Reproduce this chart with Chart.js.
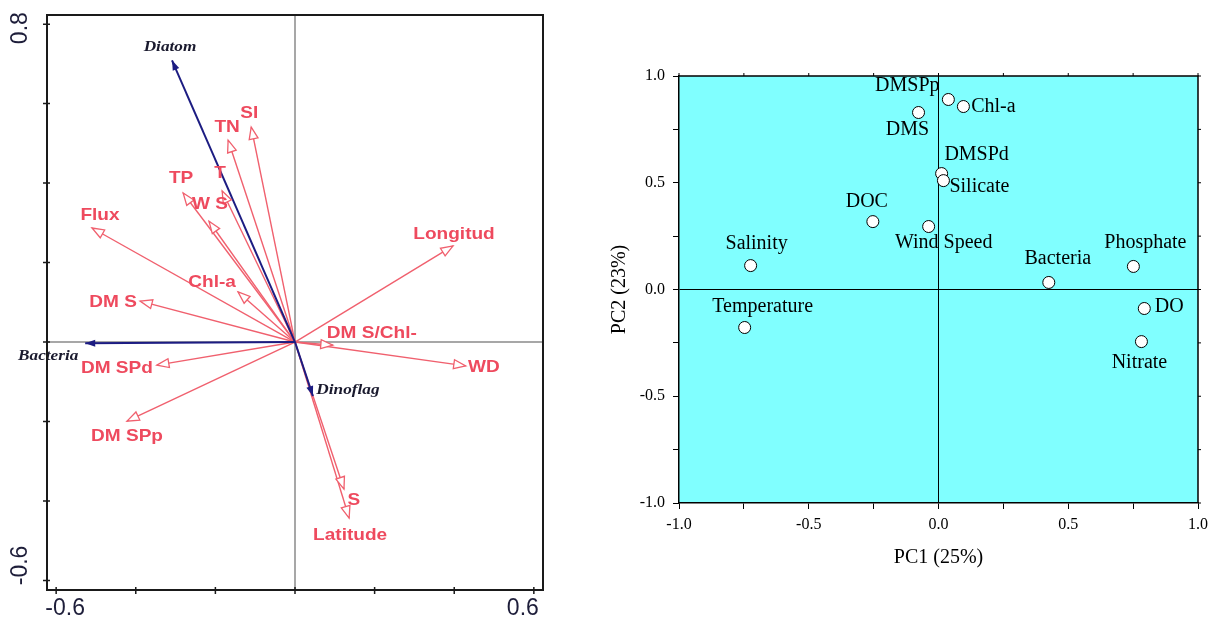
<!DOCTYPE html>
<html>
<head>
<meta charset="utf-8">
<script src="https://cdn.jsdelivr.net/npm/chart.js@4.4.0/dist/chart.umd.min.js"></script>
<style>
html, body { margin: 0; padding: 0; background: #fff; }
#wrap { position: relative; width: 1214px; height: 624px; }
#rdaChart { position: absolute; left: 0; top: 0; }
#pcaChart { position: absolute; left: 560px; top: 0; }
</style>
</head>
<body>
<div id="wrap">
  <canvas id="rdaChart" width="560" height="624"></canvas>
  <canvas id="pcaChart" width="654" height="624"></canvas>
</div>
<script>
// RDA biplot: environmental variables (red) and biological groups (blue)
const envNames = ['Flux', 'DM S', 'Chl-a', 'TP', 'W S', 'T', 'TN', 'SI', 'Longitud', 'DM S/Chl-', 'WD', 'DM SPd', 'DM SPp', 'S', 'Latitude'];
const envX = [-0.510, -0.389, -0.143, -0.281, -0.216, -0.183, -0.168, -0.110, 0.397, 0.095, 0.429, -0.347, -0.422, 0.123, 0.136];
const envY = [0.287, 0.103, 0.126, 0.375, 0.304, 0.380, 0.508, 0.541, 0.242, -0.008, -0.060, -0.058, -0.199, -0.370, -0.443];
const bioNames = ['Diatom', 'Bacteria', 'Dinoflag'];
const bioX = [-0.309, -0.527, 0.045];
const bioY = [0.709, -0.003, -0.136];
const rdaTicksX = [-0.6, -0.4, -0.2, 0, 0.2, 0.4, 0.6];
const rdaTicksY = [-0.6, -0.4, -0.2, 0, 0.2, 0.4, 0.6, 0.8];

// PCA loadings
const pcaNames = ['DMSPp', 'DMS', 'Chl-a', 'DMSPd', 'Silicate', 'DOC', 'Wind Speed', 'Salinity', 'Temperature', 'Bacteria', 'Phosphate', 'DO', 'Nitrate'];
const pc1 = [0.038, -0.077, 0.096, 0.012, 0.019, -0.253, -0.038, -0.724, -0.747, 0.425, 0.751, 0.793, 0.782];
const pc2 = [0.890, 0.829, 0.857, 0.543, 0.510, 0.318, 0.295, 0.112, -0.178, 0.033, 0.108, -0.089, -0.244];

// label placement (pixel offsets from the arrow tip / point)
const envLabelOffset = [[8, -13], [-27, 1], [-26, -10], [-2, -15], [1, -17], [-2, -18], [-1, -13], [-2, -14], [1, -12], [39, -12], [18, 1], [-40, 3], [0, 15], [10, 11], [1, 17]];
const bioLabelOffset = [[-2, -13], [-37, 13], [35, -6]];
const pcaLabelOffset = [[-41, -14], [-11, 17], [30, 0], [35, -19], [36, 6], [-6, -20], [15, 16], [6, -22], [18, -21], [9, -24], [12, -24], [25, -2], [-2, 21]];

const RED = '#f0606e';
const RED_TEXT = '#ee4a5e';
const NAVY = '#1c1c82';
const SERIF = '"Liberation Serif", "Times New Roman", serif';
const SANS = '"Liberation Sans", Arial, sans-serif';

// centred text, widened horizontally by sx
function wideText(ctx, text, x, y, sx) {
  ctx.save();
  ctx.translate(x, y);
  ctx.scale(sx, 1);
  ctx.fillText(text, 0, 0);
  ctx.restore();
}

// ---------- RDA ----------
const rdaDatasets = [];
bioNames.forEach((n, i) => {
  rdaDatasets.push({
    label: n, kind: 'bio',
    data: [{x: 0, y: 0}, {x: bioX[i], y: bioY[i]}],
    borderColor: NAVY, borderWidth: 2, showLine: true, pointRadius: 0
  });
});
envNames.forEach((n, i) => {
  rdaDatasets.push({
    label: n, kind: 'env',
    data: [{x: 0, y: 0}, {x: envX[i], y: envY[i]}],
    borderColor: RED, borderWidth: 1.4, showLine: true, pointRadius: 0
  });
});

function drawHead(ctx, p0, p1, kind) {
  const dx = p1.x - p0.x, dy = p1.y - p0.y;
  const len = Math.hypot(dx, dy);
  const ux = dx / len, uy = dy / len;
  const L = kind === 'bio' ? 10 : 12;
  const W = kind === 'bio' ? 3.5 : 4.5;
  const bx = p1.x - ux * L, by = p1.y - uy * L;
  ctx.beginPath();
  ctx.moveTo(p1.x, p1.y);
  ctx.lineTo(bx - uy * W, by + ux * W);
  ctx.lineTo(bx + uy * W, by - ux * W);
  ctx.closePath();
  if (kind === 'bio') {
    ctx.fillStyle = NAVY;
    ctx.fill();
  } else {
    ctx.fillStyle = '#fff';
    ctx.fill();
    ctx.strokeStyle = RED;
    ctx.lineWidth = 1.3;
    ctx.stroke();
  }
}

const rdaPlugin = {
  id: 'rdaDecor',
  beforeDatasetsDraw(chart) {
    const {ctx, chartArea: a, scales: {x, y}} = chart;
    ctx.save();
    ctx.strokeStyle = '#8a8a8a';
    ctx.lineWidth = 1.5;
    ctx.beginPath();
    ctx.moveTo(x.getPixelForValue(0), a.top);
    ctx.lineTo(x.getPixelForValue(0), a.bottom);
    ctx.moveTo(a.left, y.getPixelForValue(0));
    ctx.lineTo(a.right, y.getPixelForValue(0));
    ctx.stroke();
    ctx.restore();
  },
  afterDatasetsDraw(chart) {
    const {ctx} = chart;
    ctx.save();
    chart.data.datasets.forEach((ds, i) => {
      const pts = chart.getDatasetMeta(i).data;
      drawHead(ctx, pts[0], pts[1], ds.kind);
    });
    ctx.textAlign = 'center';
    ctx.textBaseline = 'middle';
    chart.data.datasets.forEach((ds, i) => {
      const tip = chart.getDatasetMeta(i).data[1];
      if (ds.kind === 'bio') {
        const k = bioNames.indexOf(ds.label);
        ctx.font = 'italic bold 15px ' + SERIF;
        ctx.fillStyle = '#1a1a2e';
        wideText(ctx, ds.label, tip.x + bioLabelOffset[k][0], tip.y + bioLabelOffset[k][1], 1.15);
      } else {
        const k = envNames.indexOf(ds.label);
        ctx.font = 'bold 17px ' + SANS;
        ctx.fillStyle = RED_TEXT;
        wideText(ctx, ds.label, tip.x + envLabelOffset[k][0], tip.y + envLabelOffset[k][1], 1.12);
      }
    });
    ctx.restore();
  },
  afterDraw(chart) {
    const {ctx, chartArea: a, scales: {x, y}} = chart;
    ctx.save();
    ctx.strokeStyle = '#1a1a1a';
    ctx.lineWidth = 2;
    ctx.strokeRect(a.left, a.top, a.right - a.left, a.bottom - a.top);
    ctx.lineWidth = 1.5;
    ctx.beginPath();
    rdaTicksY.forEach(v => {
      const py = y.getPixelForValue(v);
      ctx.moveTo(a.left - 4, py);
      ctx.lineTo(a.left + 3, py);
    });
    rdaTicksX.forEach(v => {
      const px = x.getPixelForValue(v);
      ctx.moveTo(px, a.bottom - 3);
      ctx.lineTo(px, a.bottom + 4);
    });
    ctx.stroke();

    ctx.fillStyle = '#1e1e3a';
    ctx.font = '23px ' + SANS;
    ctx.textAlign = 'center';
    ctx.textBaseline = 'middle';
    const yMax = rdaTicksY[rdaTicksY.length - 1], yMin = rdaTicksY[0];
    [[yMax, 4], [yMin, -15]].forEach(([v, off]) => {
      ctx.save();
      ctx.translate(21, y.getPixelForValue(v) + off);
      ctx.rotate(-Math.PI / 2);
      ctx.fillText(v.toFixed(1), 0, 0);
      ctx.restore();
    });
    const xMin = rdaTicksX[0], xMax = rdaTicksX[rdaTicksX.length - 1];
    ctx.fillText(xMin.toFixed(1), x.getPixelForValue(xMin) + 9, 609);
    ctx.fillText(xMax.toFixed(1), x.getPixelForValue(xMax) - 11, 609);
    ctx.restore();
  }
};

new Chart(document.getElementById('rdaChart'), {
  type: 'scatter',
  data: {datasets: rdaDatasets},
  options: {
    responsive: false,
    animation: false,
    layout: {padding: {left: 47, top: 15, right: 17, bottom: 34}},
    plugins: {legend: {display: false}, tooltip: {enabled: false}},
    scales: {
      x: {type: 'linear', min: -0.623, max: 0.623, display: false},
      y: {type: 'linear', min: -0.624, max: 0.823, display: false}
    }
  },
  plugins: [rdaPlugin]
});

// ---------- PCA ----------
const isMajor = v => Math.abs(v * 2 - Math.round(v * 2)) < 1e-9;
const zeroLine = c => (c.tick && Math.abs(c.tick.value) < 1e-9) ? '#000' : 'rgba(0,0,0,0)';

const pcaPlugin = {
  id: 'pcaDecor',
  beforeDraw(chart) {
    const {ctx, chartArea: a} = chart;
    ctx.save();
    ctx.fillStyle = '#80ffff';
    ctx.fillRect(a.left, a.top, a.right - a.left, a.bottom - a.top);
    ctx.restore();
  },
  afterDatasetsDraw(chart) {
    const {ctx} = chart;
    const pts = chart.getDatasetMeta(0).data;
    ctx.save();
    ctx.font = '20px ' + SERIF;
    ctx.fillStyle = '#000';
    ctx.textAlign = 'center';
    ctx.textBaseline = 'middle';
    pcaNames.forEach((n, i) => {
      ctx.fillText(n, pts[i].x + pcaLabelOffset[i][0], pts[i].y + pcaLabelOffset[i][1]);
    });
    ctx.restore();
  },
  afterDraw(chart) {
    const {ctx, chartArea: a, scales: {x, y}} = chart;
    ctx.save();
    ctx.strokeStyle = '#000';
    ctx.lineWidth = 1.5;
    ctx.beginPath();
    ctx.moveTo(a.left, a.top);
    ctx.lineTo(a.right, a.top);
    ctx.lineTo(a.right, a.bottom);
    ctx.stroke();
    ctx.lineWidth = 1;
    ctx.beginPath();
    x.ticks.forEach(t => {
      const px = x.getPixelForValue(t.value);
      ctx.moveTo(px, a.top);
      ctx.lineTo(px, a.top - 3);
    });
    y.ticks.forEach(t => {
      const py = y.getPixelForValue(t.value);
      ctx.moveTo(a.right, py);
      ctx.lineTo(a.right + 3, py);
    });
    ctx.stroke();
    ctx.restore();
  }
};

const tickFont = {family: SERIF, size: 16};
const titleFont = {family: SERIF, size: 20};

new Chart(document.getElementById('pcaChart'), {
  type: 'scatter',
  data: {
    datasets: [{
      data: pc1.map((v, i) => ({x: v, y: pc2[i]})),
      pointRadius: 6,
      pointBackgroundColor: '#fff',
      pointBorderColor: '#000',
      pointBorderWidth: 1
    }]
  },
  options: {
    responsive: false,
    animation: false,
    layout: {padding: {left: 36, top: 76, right: 13, bottom: 46}},
    plugins: {legend: {display: false}, tooltip: {enabled: false}},
    scales: {
      x: {
        type: 'linear', min: -1, max: 1,
        afterFit: s => { s.height = 75; },
        border: {color: '#000', width: 1.5},
        grid: {color: zeroLine, tickColor: '#000', tickLength: 6, lineWidth: 1},
        ticks: {stepSize: 0.25, autoSkip: false, maxRotation: 0, padding: 6, color: '#000', font: tickFont,
                callback: v => isMajor(v) ? v.toFixed(1) : ''},
        title: {display: true, text: 'PC1 (25%)', color: '#000', font: titleFont, padding: {top: 0, bottom: 8}}
      },
      y: {
        type: 'linear', min: -1, max: 1,
        afterFit: s => { s.width = 83; },
        border: {color: '#000', width: 1.5},
        grid: {color: zeroLine, tickColor: '#000', tickLength: 6, lineWidth: 1},
        ticks: {stepSize: 0.25, autoSkip: false, padding: 8, color: '#000', font: tickFont,
                callback: v => isMajor(v) ? v.toFixed(1) : ''},
        title: {display: true, text: 'PC2 (23%)', color: '#000', font: titleFont, padding: {top: 12, bottom: 0}}
      }
    }
  },
  plugins: [pcaPlugin]
});
</script>
</body>
</html>
